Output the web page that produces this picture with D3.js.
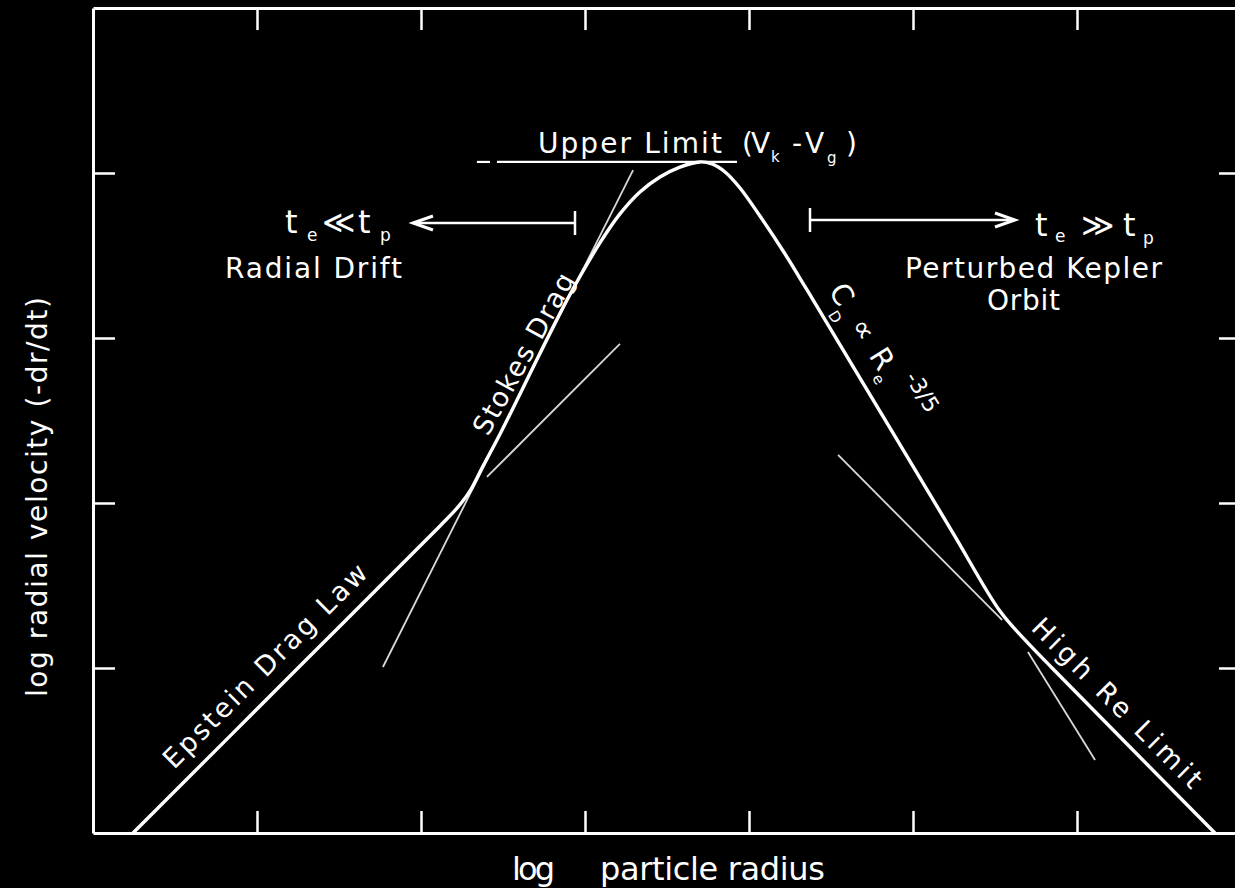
<!DOCTYPE html>
<html>
<head>
<script src="https://d3js.org/d3.v7.min.js"></script>
<style>
  body { margin: 0; background: #000; }
  svg { display: block; background: #000; }
  text { fill: #fff; font-family: "DejaVu Sans", "Liberation Sans", sans-serif; }
</style>
</head>
<body>
<div id="chart"></div>
<script>
// log radius (x) and log radial velocity (y), in tick units
var xTicks = [1, 2, 3, 4, 5, 6];
var yTicks = [1, 2, 3, 4];

// drift curve
var curveX = [0.244, 1.262, 2.116, 2.226, 2.299, 2.372, 2.482, 2.890, 3.091, 3.213, 3.335, 3.457, 3.579, 3.701,
    3.774, 3.854, 3.945, 4.067, 4.220, 4.354, 4.841, 5.244, 5.530, 5.683, 5.854, 6.841];
var curveY = [0.000, 1.012, 1.861, 1.976, 2.073, 2.212, 2.418, 3.230, 3.576, 3.752, 3.885, 3.976, 4.036, 4.067,
    4.055, 4.006, 3.909, 3.739, 3.509, 3.291, 2.485, 1.818, 1.345, 1.170, 0.994, 0.000];

// thin asymptote lines [x, y]
var stokesFit = [[1.768, 1.006], [3.293, 4.018]];
var epsteinFit = [[2.402, 2.158], [3.213, 2.964]];
var highReFit = [[4.543, 2.291], [5.543, 1.291]];
var dragFit = [[5.701, 1.097], [6.110, 0.442]];

// upper limit level and its two pieces
var upperLimit = 4.067;
var upperPieces = [[2.341, 2.421], [2.463, 3.927]];

// regime arrows: [bar end, arrow tip, level]
var driftArrow = [2.939, 1.951, 3.697];
var keplerArrow = [4.372, 5.622, 3.715];

var width = 1235, height = 888;

var svg = d3.select("#chart")
    .append("svg")
    .attr("width", width)
    .attr("height", height);

var x = d3.scaleLinear().domain([0, 7]).range([93, 1241]);
var y = d3.scaleLinear().domain([0, 5]).range([833, 8]);

// frame with inward ticks on all four sides
function frame(g) {
    g.selectAll("path.domain").attr("stroke", "#fff").attr("stroke-width", 3);
    g.selectAll(".tick line").attr("stroke", "#fff").attr("stroke-width", 2.5);
    g.selectAll(".tick text").remove();
}
svg.append("g").attr("transform", "translate(0," + y(0) + ")")
    .call(d3.axisBottom(x).tickValues(xTicks).tickSizeInner(-22).tickSizeOuter(0).tickFormat("")).call(frame);
svg.append("g").attr("transform", "translate(0," + y(5) + ")")
    .call(d3.axisTop(x).tickValues(xTicks).tickSizeInner(-22).tickSizeOuter(0).tickFormat("")).call(frame);
svg.append("g").attr("transform", "translate(" + x(0) + ",0)")
    .call(d3.axisLeft(y).tickValues(yTicks).tickSizeInner(-22).tickSizeOuter(0).tickFormat("")).call(frame);
svg.append("g").attr("transform", "translate(" + x(7) + ",0)")
    .call(d3.axisRight(y).tickValues(yTicks).tickSizeInner(-22).tickSizeOuter(0).tickFormat("")).call(frame);

// thin fits
[stokesFit, epsteinFit, highReFit, dragFit].forEach(function (f) {
    svg.append("line")
        .attr("x1", x(f[0][0])).attr("y1", y(f[0][1]))
        .attr("x2", x(f[1][0])).attr("y2", y(f[1][1]))
        .attr("stroke", "#d8d8d8")
        .attr("stroke-width", 1.8);
});

// upper limit
upperPieces.forEach(function (p) {
    svg.append("line")
        .attr("x1", x(p[0])).attr("x2", x(p[1]))
        .attr("y1", y(upperLimit)).attr("y2", y(upperLimit))
        .attr("stroke", "#fff")
        .attr("stroke-width", 2.2);
});

// main curve
var pts = curveX.map(function (d, i) { return [d, curveY[i]]; });
svg.append("path")
    .datum(pts)
    .attr("fill", "none")
    .attr("stroke", "#fff")
    .attr("stroke-width", 3.4)
    .attr("stroke-linejoin", "round")
    .attr("d", d3.line()
        .x(function (d) { return x(d[0]); })
        .y(function (d) { return y(d[1]); })
        .curve(d3.curveCatmullRom.alpha(0.5)));

// arrows
[driftArrow, keplerArrow].forEach(function (a) {
    var x0 = x(a[0]), x1 = x(a[1]), yy = y(a[2]);
    var dir = x1 > x0 ? 1 : -1;
    svg.append("line").attr("x1", x0).attr("x2", x1).attr("y1", yy).attr("y2", yy)
        .attr("stroke", "#fff").attr("stroke-width", 2.5);
    svg.append("line").attr("x1", x0).attr("x2", x0).attr("y1", yy - 12).attr("y2", yy + 12)
        .attr("stroke", "#fff").attr("stroke-width", 2.5);
    svg.append("path")
        .attr("d", "M" + (x1 - dir * 20) + "," + (yy - 7) + "L" + x1 + "," + yy + "L" + (x1 - dir * 20) + "," + (yy + 7))
        .attr("fill", "none").attr("stroke", "#fff").attr("stroke-width", 3);
});

// plain labels
function label(t, lx, ly, angle, size, len, anchor) {
    var el = svg.append("text")
        .attr("transform", "translate(" + x(lx) + "," + y(ly) + ") rotate(" + angle + ")")
        .attr("text-anchor", anchor || "start")
        .style("font-size", size + "px")
        .text(t);
    if (len) el.attr("textLength", len);
    return el;
}
label("Upper Limit", 2.713, 4.121, 0, 28, 184);
label("Radial Drift", 0.805, 3.364, 0, 28, 177);
label("Perturbed Kepler", 4.951, 3.364, 0, 28, 257);
label("Orbit", 5.451, 3.170, 0, 28, 73);
label("Stokes Drag", 2.409, 2.400, -61, 27, 180);
label("Epstein Drag Law", 0.494, 0.382, -45, 27, 276);
label("High Re Limit", 5.713, 1.236, 45, 27, 228);
label("log radial velocity (-dr/dt)", -0.280, 2.036, -90, 28, 400, "middle");
label("log", 2.555, -0.285, 0, 32, 43);
label("particle radius", 3.091, -0.285, 0, 32, 225);

// labels with sub/superscripts: pieces [text, dx, dy, size]
function formula(lx, ly, angle, pieces) {
    var el = svg.append("text")
        .attr("transform", "translate(" + x(lx) + "," + y(ly) + ") rotate(" + angle + ")");
    pieces.forEach(function (p) {
        el.append("tspan").attr("x", p[1]).attr("y", p[2])
            .style("font-size", p[3] + "px").text(p[0]);
    });
}
formula(3.957, 4.121, 0, [["(", 0, 0, 28], ["V", 9, 0, 28], ["k", 29, 9, 15], ["-", 50, 0, 28],
    ["V", 63, 0, 28], ["g", 85, 10, 15], [")", 104, 0, 28]]);
formula(1.171, 3.636, 0, [["t", 0, 0, 32], ["e", 22, 8, 17], ["\u226a", 37, 0, 32], ["t", 73, 0, 32], ["p", 95, 8, 17]]);
formula(5.744, 3.618, 0, [["t", 0, 0, 32], ["e", 20, 6, 17], ["\u226b", 46, 0, 32], ["t", 88, 0, 32], ["p", 108, 8, 17]]);
formula(4.482, 3.285, 58, [["C", 0, 0, 29], ["D", 20, 13, 15], ["\u221d", 41, 0, 29], ["R", 76, 0, 29],
    ["e", 97, 9, 15], ["-3/5", 114, -19, 22]]);
</script>
</body>
</html>
